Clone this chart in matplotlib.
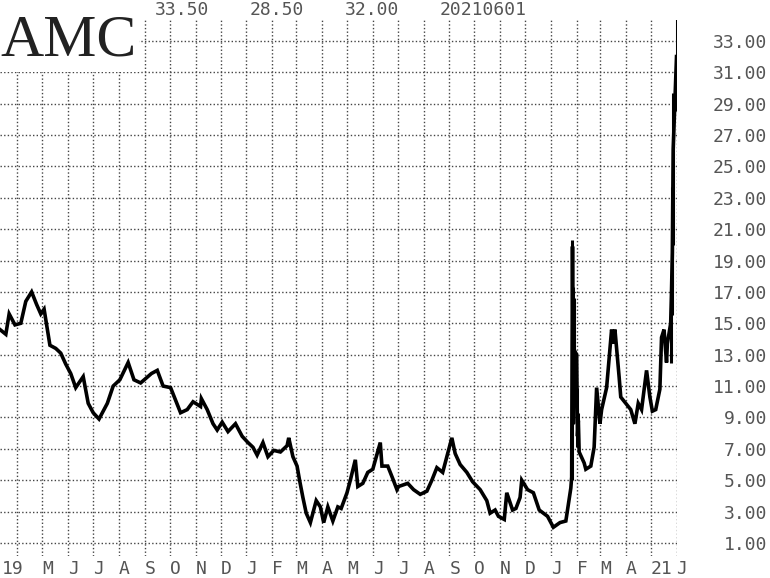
import numpy as np
import pandas as pd
import matplotlib
matplotlib.use("Agg")
import matplotlib.pyplot as plt
import matplotlib.transforms as mtransforms

# closes / swing points
days = ["2019-03-11", "2019-03-18", "2019-03-22", "2019-03-29", "2019-04-05", "2019-04-11",
        "2019-04-18", "2019-04-24", "2019-04-29", "2019-05-03", "2019-05-07", "2019-05-10",
        "2019-05-17", "2019-05-23", "2019-05-29", "2019-06-04", "2019-06-10", "2019-06-19",
        "2019-06-25", "2019-07-01", "2019-07-08", "2019-07-12", "2019-07-18", "2019-07-25",
        "2019-08-02", "2019-08-12", "2019-08-19", "2019-08-27", "2019-09-09", "2019-09-16",
        "2019-09-23", "2019-10-02", "2019-10-08", "2019-10-14", "2019-10-22", "2019-10-29",
        "2019-11-07", "2019-11-08", "2019-11-15", "2019-11-22", "2019-11-27", "2019-12-03",
        "2019-12-10", "2019-12-19", "2019-12-27", "2020-01-03", "2020-01-09", "2020-01-14",
        "2020-01-21", "2020-01-27", "2020-02-03", "2020-02-11", "2020-02-19", "2020-02-21",
        "2020-02-26", "2020-03-02", "2020-03-05", "2020-03-09", "2020-03-13", "2020-03-18",
        "2020-03-25", "2020-03-30", "2020-04-03", "2020-04-08", "2020-04-14", "2020-04-20",
        "2020-04-24", "2020-05-01", "2020-05-05", "2020-05-11", "2020-05-14", "2020-05-20",
        "2020-05-26", "2020-06-01", "2020-06-10", "2020-06-12", "2020-06-19", "2020-06-25",
        "2020-06-30", "2020-07-02", "2020-07-13", "2020-07-20", "2020-07-28", "2020-08-05",
        "2020-08-11", "2020-08-17", "2020-08-24", "2020-08-28", "2020-09-04", "2020-09-08",
        "2020-09-14", "2020-09-22", "2020-09-29", "2020-10-08", "2020-10-16", "2020-10-20",
        "2020-10-26", "2020-10-30", "2020-11-06", "2020-11-09", "2020-11-16", "2020-11-20",
        "2020-11-25", "2020-11-27", "2020-12-04", "2020-12-11", "2020-12-18", "2020-12-28",
        "2021-01-04", "2021-01-12", "2021-01-19", "2021-01-21", "2021-01-25", "2021-01-26",
        "2021-01-27", "2021-01-28", "2021-01-29", "2021-02-01", "2021-02-02", "2021-02-03",
        "2021-02-04", "2021-02-10", "2021-02-12", "2021-02-18", "2021-02-22", "2021-02-25",
        "2021-03-01", "2021-03-03", "2021-03-09", "2021-03-15", "2021-03-17", "2021-03-19",
        "2021-03-24", "2021-03-26", "2021-04-01", "2021-04-07", "2021-04-12", "2021-04-16",
        "2021-04-20", "2021-04-26", "2021-04-30", "2021-05-03", "2021-05-07", "2021-05-12",
        "2021-05-14", "2021-05-17", "2021-05-20", "2021-05-21", "2021-05-25", "2021-05-26",
        "2021-05-27", "2021-05-28", "2021-06-01"]
price = [14.6, 14.3, 15.6, 14.9, 15.0, 16.4,
         17.0, 16.2, 15.6, 15.9, 14.6, 13.6,
         13.4, 13.1, 12.4, 11.8, 10.9, 11.6,
         9.9, 9.3, 8.9, 9.3, 9.9, 11.0,
         11.4, 12.5, 11.4, 11.2, 11.8, 12.0,
         11.0, 10.9, 10.1, 9.3, 9.5, 10.0,
         9.7, 10.2, 9.5, 8.6, 8.2, 8.7,
         8.1, 8.6, 7.8, 7.4, 7.1, 6.6,
         7.4, 6.5, 6.9, 6.8, 7.2, 7.7,
         6.5, 5.9, 5.0, 3.9, 2.9, 2.3,
         3.7, 3.3, 2.3, 3.3, 2.4, 3.3,
         3.2, 4.2, 5.0, 6.3, 4.6, 4.8,
         5.5, 5.7, 7.4, 5.9, 5.9, 5.1,
         4.4, 4.6, 4.8, 4.4, 4.1, 4.3,
         5.0, 5.8, 5.5, 6.3, 7.7, 6.7,
         6.0, 5.5, 4.9, 4.4, 3.7, 2.9,
         3.1, 2.7, 2.5, 4.2, 3.1, 3.2,
         3.9, 5.0, 4.4, 4.2, 3.1, 2.7,
         2.0, 2.3, 2.4, 3.1, 4.5, 5.2,
         19.9, 8.6, 13.3, 13.0, 7.8, 8.8,
         6.8, 6.1, 5.7, 5.9, 7.1, 10.9,
         8.6, 9.5, 10.9, 14.6, 13.7, 14.6,
         11.6, 10.3, 9.9, 9.5, 8.6, 9.9,
         9.5, 12.0, 10.3, 9.4, 9.5, 10.8,
         14.1, 14.6, 12.5, 13.7, 15.0, 17.1,
         19.5, 26.1, 32.0]

# days with a wide high-low range
bar_days = ["2021-01-27", "2021-01-28", "2021-01-29", "2021-02-02", "2021-02-03",
            "2021-05-25", "2021-05-26", "2021-05-27", "2021-05-28", "2021-06-01"]
bar_low = [5.0, 8.6, 10.9, 7.1, 7.5, 12.5, 15.5, 17.3, 20.0, 28.5]
bar_high = [20.3, 17.3, 16.6, 10.9, 9.3, 16.0, 19.8, 23.7, 29.7, 34.5]

# header: high, low, close, date
header = ["33.50", "28.50", "32.00", "20210601"]

y_ticks = list(range(1, 35, 2))
month_starts = pd.date_range("2019-04-01", "2021-06-01", freq="MS")
month_labels = ["19", "M", "J", "J", "A", "S", "O", "N", "D", "J", "F", "M", "A",
                "M", "J", "J", "A", "S", "O", "N", "D", "J", "F", "M", "A", "21", "J"]

mono = "DejaVu Sans Mono"
grey = "#555555"

fig = plt.figure(figsize=(7.7, 5.78), dpi=100)
ax = fig.add_axes([0, 22 / 578, 677 / 770, 536 / 578])

x = pd.to_datetime(days)
ax.plot(x, price, color="black", lw=2.6, solid_joinstyle="miter", zorder=3)
ax.vlines(pd.to_datetime(bar_days), bar_low, bar_high, color="black", lw=2.2, zorder=3)

ax.set_xlim(pd.Timestamp("2019-03-11"), pd.Timestamp("2021-06-01 14:00"))
ax.set_ylim(0.17, 34.33)

for s in ax.spines.values():
    s.set_visible(False)

ax.set_yticks(y_ticks, ["%.2f" % v for v in y_ticks], ha="right",
              family=mono, fontsize=13, color=grey)
ax.yaxis.tick_right()
ax.tick_params(axis="y", length=0, pad=65)

ax.set_xticks(month_starts, month_labels, ha="left", family=mono, fontsize=13, color=grey)
ax.tick_params(axis="x", length=0, pad=3)
# the year label sits just left of its grid line, at the picture's edge
first = ax.get_xticklabels()[0]
first.set_transform(first.get_transform() +
                    mtransforms.ScaledTranslation(-16 / 100, 0, fig.dpi_scale_trans))

ax.grid(True, ls=(0, (1, 1.6)), color="#444444", lw=1.0, zorder=1)

# header numbers
for txt, px in zip(header, [155, 250, 345, 440]):
    fig.text(px / 770, 1 - 10 / 578, txt, family=mono, fontsize=13, color=grey,
             ha="left", va="center")

fig.text(0.0, 1 - 56 / 578, "AMC", family="Liberation Serif", fontsize=43,
         color="#222222", ha="left", va="baseline",
         bbox=dict(facecolor="white", edgecolor="none", pad=2))

fig.savefig("out.png", dpi=100)
